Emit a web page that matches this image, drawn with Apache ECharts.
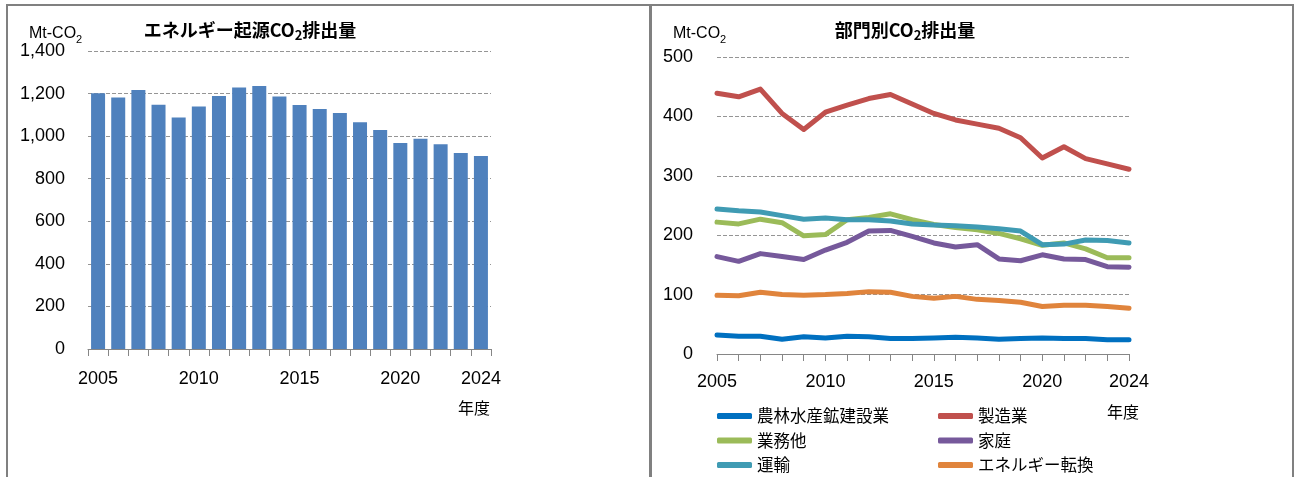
<!DOCTYPE html>
<html>
<head>
<meta charset="utf-8">
<script src="https://cdn.jsdelivr.net/npm/echarts@6/dist/echarts.min.js"></script>
<style>
html,body{margin:0;padding:0;background:#fff;}
#c{width:1294px;height:477px;}
</style>
</head>
<body>
<div id="c"></div>
<script>
// ---- data ----
const years = ['2005','2006','2007','2008','2009','2010','2011','2012','2013','2014','2015','2016','2017','2018','2019','2020','2021','2022','2023','2024'];
const labelIdx = [0,5,10,15,19];
const energyCO2 = [1201,1181,1217,1148,1088,1139,1189,1228,1236,1186,1146,1128,1109,1065,1029,968,988,962,921,907];

const agriMining   = [32,30,30,25,29,27,30,29,26,26,27,28,27,25,26,27,26,26,24,24];
const manufacturing= [439,433,446,405,378,407,419,430,437,421,405,394,387,380,364,330,349,329,320,311];
const commercial   = [222,219,227,221,199,201,226,230,236,226,218,213,209,203,194,183,187,177,162,162];
const household    = [164,156,169,164,159,175,188,207,208,198,187,180,184,160,157,167,160,159,147,146];
const transport    = [244,241,239,233,227,229,226,226,224,219,217,216,214,211,207,184,185,192,191,187];
const energyConv   = [99,98,104,100,99,100,102,105,104,97,94,97,92,90,87,80,82,82,80,77];

const sectorNames  = ['農林水産鉱建設業','製造業','業務他','家庭','運輸','エネルギー転換'];
const sectorData   = [agriMining, manufacturing, commercial, household, transport, energyConv];
const sectorColors = ['#0070C0','#C0504D','#9BBB59','#76599B','#3F9BB3','#E0843C'];

const FONT = '"Liberation Sans","Noto Sans CJK JP",sans-serif';
const JFONT = '"Noto Sans CJK JP","Liberation Sans",sans-serif';
const axisGray = '#868686';

const chart = echarts.init(document.getElementById('c'), null, {renderer:'canvas'});

function xAxisCommon(gridIndex, boundaryGap, margin){
  return {
    type:'category', gridIndex, data: years, boundaryGap,
    axisLine:{show:true, lineStyle:{color:axisGray, width:1}},
    axisTick:{show:true, interval:0, length:7, lineStyle:{color:axisGray}},
    axisLabel:{interval:(i)=>labelIdx.includes(i), margin, color:'#000', fontFamily:FONT, fontSize:18},
    splitLine:{show:false}
  };
}
function yAxisCommon(gridIndex, max, interval, fmt, margin){
  return {
    type:'value', gridIndex, min:0, max, interval,
    axisLine:{show:false}, axisTick:{show:false},
    axisLabel:{color:'#000', fontFamily:FONT, fontSize:18, margin, formatter:fmt},
    splitLine:{show:true, lineStyle:{color:'#959595', type:[4,2], width:1}}
  };
}

const titleRich = {
  b:{fontFamily:JFONT, fontWeight:'bold', fontSize:18, color:'#000', lineHeight:24},
  s:{fontFamily:JFONT, fontWeight:'bold', fontSize:13, color:'#000', lineHeight:13, verticalAlign:'bottom'}
};
const unitRich = {
  b:{fontFamily:FONT, fontWeight:'normal', fontSize:16, color:'#000', lineHeight:22},
  s:{fontFamily:FONT, fontWeight:'normal', fontSize:11, color:'#000', lineHeight:11, verticalAlign:'bottom'}
};

const series = [{
  type:'bar', xAxisIndex:0, yAxisIndex:0, data: energyCO2, barWidth:14,
  itemStyle:{color:'#4F81BD'}, silent:true
}];
sectorNames.forEach((n,i)=>{
  series.push({
    name:n, type:'line', xAxisIndex:1, yAxisIndex:1, data: sectorData[i],
    symbol:'none', showSymbol:false, smooth:false,
    lineStyle:{color:sectorColors[i], width:5, join:'round', cap:'round'},
    itemStyle:{color:sectorColors[i]}
  });
});

const legendCommon = {
  orient:'vertical', top:406, itemWidth:35, itemHeight:6, icon:'roundRect', itemGap:4.5,
  padding:0, selectedMode:false,
  textStyle:{fontFamily:JFONT, fontSize:16.5, color:'#000', lineHeight:20}
};

chart.setOption({
  animation:false,
  backgroundColor:'#fff',
  grid:[
    {left:88, top:51, width:403, height:298},
    {left:717, top:57, width:412, height:297}
  ],
  xAxis:[ xAxisCommon(0,true,21), xAxisCommon(1,false,19) ],
  yAxis:[
    yAxisCommon(0,1400,200,(v)=>v.toLocaleString('en-US'),23),
    yAxisCommon(1,500,100,(v)=>String(v),24)
  ],
  title:[
    {text:'{b|エネルギー起源CO}{s|2}{b|排出量}', left:250, top:18, textAlign:'center', padding:0, textStyle:{fontWeight:'bold', rich:titleRich}},
    {text:'{b|部門別CO}{s|2}{b|排出量}', left:905, top:18, textAlign:'center', padding:0, textStyle:{fontWeight:'bold', rich:titleRich}},
    {text:'{b|Mt-CO}{s|2}', left:29, top:23, padding:0, textStyle:{fontWeight:'normal', rich:unitRich}},
    {text:'{b|Mt-CO}{s|2}', left:673, top:23, padding:0, textStyle:{fontWeight:'normal', rich:unitRich}}
  ],
  legend:[
    Object.assign({}, legendCommon, {left:717, data:[sectorNames[0], sectorNames[2], sectorNames[4]]}),
    Object.assign({}, legendCommon, {left:938, data:[sectorNames[1], sectorNames[3], sectorNames[5]]})
  ],
  graphic:[
    {type:'rect', shape:{x:7, y:5, width:643, height:480}, style:{fill:null, stroke:'#808080', lineWidth:2}, silent:true, z:-1},
    {type:'rect', shape:{x:651, y:5, width:642, height:480}, style:{fill:null, stroke:'#808080', lineWidth:2}, silent:true, z:-1},
    {type:'text', x:474, y:408, style:{text:'年度', font:'16px "Noto Sans CJK JP"', fill:'#000', align:'center', verticalAlign:'middle'}},
    {type:'text', x:1123, y:412, style:{text:'年度', font:'16px "Noto Sans CJK JP"', fill:'#000', align:'center', verticalAlign:'middle'}}
  ],
  series
});
</script>
</body>
</html>
